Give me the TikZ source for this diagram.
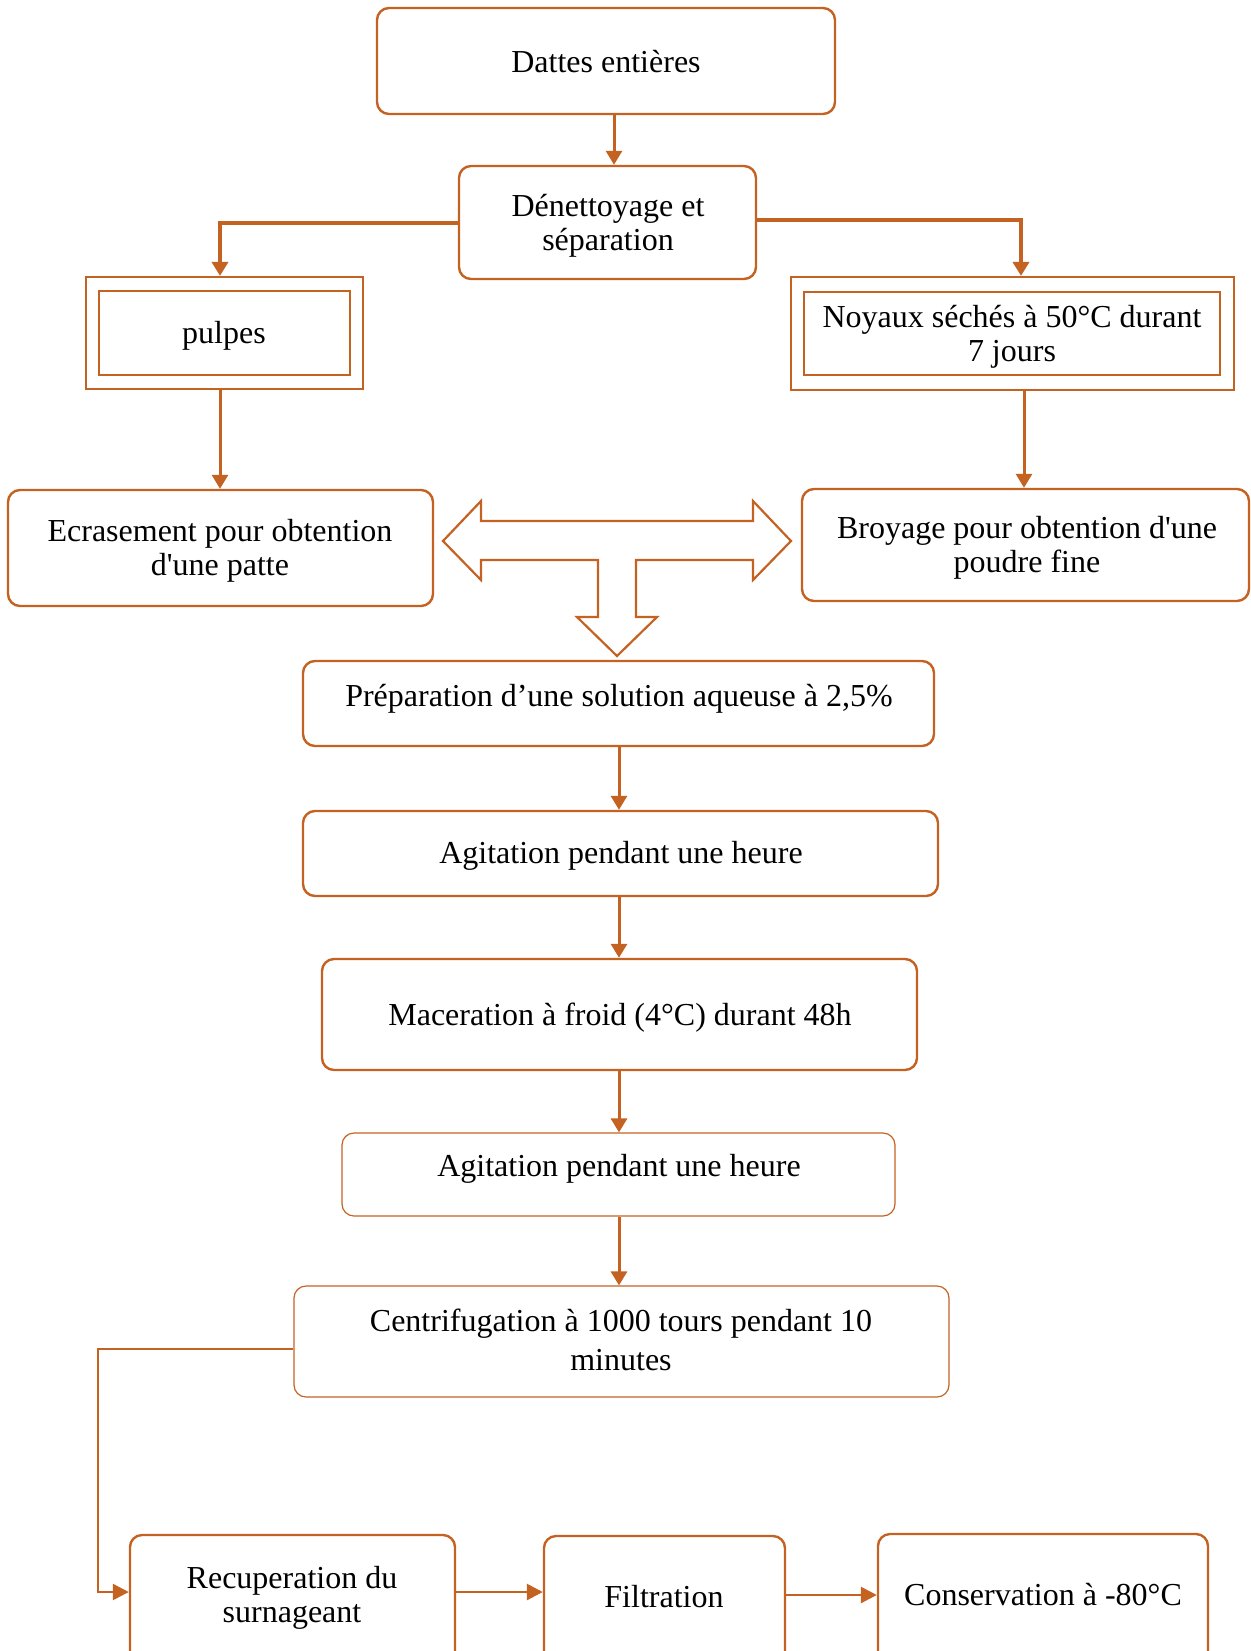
\documentclass[tikz,border=0pt]{standalone}
\usepackage{fontspec}
\setmainfont{Liberation Serif}[Ligatures=TeXOff]
\usetikzlibrary{arrows.meta,fit,calc}
\definecolor{brn}{RGB}{196,98,34}
\begin{document}
\begin{tikzpicture}[x=0.5pt,y=-0.5pt,
 box/.style={draw=brn, line width=1.2pt, rounded corners=6pt, inner sep=0pt},
 thinbox/.style={box, line width=0.6pt},
 sqbox/.style={draw=brn, line width=1.1pt, inner sep=0pt},
 txt/.style={font=\fontsize{16}{17}\selectfont, align=center, inner sep=0pt},
 arr/.style={draw=brn, line width=1.5pt, -{Triangle[width=8pt,length=7pt]}},
 conn/.style={draw=brn, line width=2pt},
 bigarrow/.style={draw=brn, line width=1.1pt, fill=white, line join=miter},
]
\useasboundingbox (0,0) rectangle (1250,1651);
\clip (0,0) rectangle (1250,1651);

% boxes
\node[box, fit={(377,8) (835,114)}] (dattes) {};
\node[txt] (tdattes) at (606,62) {Dattes entières};

\node[box, fit={(459,166) (756,279)}] (denet) {};
\node[txt] (tdenet) at (608,226) {Dénettoyage et\\séparation};

\node[sqbox, fit={(86,277) (363,389)}] (pulpout) {};
\node[sqbox, fit={(99,291) (350,375)}] (pulpin) {};
\node[txt] (tpulp) at (224,336) {pulpes};

\node[sqbox, fit={(791,277) (1234,390)}] (noyout) {};
\node[sqbox, fit={(804,292) (1220,375)}] (noyin) {};
\node[txt] (tnoy) at (1012,337) {Noyaux séchés à 50°C durant\\7 jours};

\node[box, fit={(8,490) (433,606)}] (ecras) {};
\node[txt] (tecras) at (220,551) {Ecrasement pour obtention\\d'une patte};

\node[box, fit={(802,489) (1249,601)}] (broy) {};
\node[txt] (tbroy) at (1027,548) {Broyage pour obtention d'une\\poudre fine};

\node[box, fit={(303,661) (934,746)}] (prep) {};
\node[txt] (tprep) at (619,699) {Préparation d’une solution aqueuse à 2,5\%};

\node[box, fit={(303,811) (938,896)}] (agit1) {};
\node[txt] (tagit1) at (621,856) {Agitation pendant une heure};

\node[box, fit={(322,959) (917,1070)}] (macer) {};
\node[txt] (tmacer) at (620,1018) {Maceration à froid (4°C) durant 48h};

\node[thinbox, fit={(342,1133) (895,1216)}] (agit2) {};
\node[txt] (tagit2) at (619,1169) {Agitation pendant une heure};

\node[thinbox, fit={(294,1286) (949,1397)}] (centrif) {};
\node[txt, font=\fontsize{16}{19.5}\selectfont] (tcentrif) at (621,1340) {Centrifugation à 1000 tours pendant 10\\minutes};

\node[box, fit={(130,1535) (455,1720)}] (recup) {};
\node[txt] (trecup) at (292,1598) {Recuperation du\\surnageant};

\node[box, fit={(544,1536) (785,1720)}] (filt) {};
\node[txt] (tfilt) at (664,1597) {Filtration};

\node[box, fit={(878,1534) (1208,1720)}] (cons) {};
\node[txt] (tcons) at (1043,1595) {Conservation à -80°C};

% connectors
\draw[arr] (dattes.south -| 614,0) -- (denet.north -| 614,0);
\draw[conn, -{Triangle[width=8pt,length=7pt]}] (denet.west) -| (pulpout.north -| 220,0);
\draw[conn, -{Triangle[width=8pt,length=7pt]}] ([yshift=1.25pt]denet.east) -| (noyout.north -| 1021,0);
\draw[arr] (pulpout.south -| 220,0) -- (ecras.north -| 220,0);
\draw[arr] (noyout.south -| 1024,0) -- (broy.north -| 1024,0);

% three-way arrow
\draw[bigarrow] (443,541) -- (481,501) -- (481,521) -- (753,521) -- (753,501) -- (791,541)
  -- (753,580) -- (753,560) -- (636,560) -- (636,617) -- (657,617) -- (617,656)
  -- (577,617) -- (598,617) -- (598,560) -- (481,560) -- (481,580) -- cycle;

\draw[arr] (prep.south -| 619,0) -- (agit1.north -| 619,0);
\draw[arr] (agit1.south -| 619,0) -- (macer.north -| 619,0);
\draw[arr] (macer.south -| 619,0) -- (agit2.north -| 619,0);
\draw[arr] (agit2.south -| 619,0) -- (centrif.north -| 619,0);

\draw[draw=brn, line width=1.2pt, -{Triangle[width=8pt,length=8pt]}]
  (centrif.west |- 0,1349) -| (98,1592) -- (recup.west |- 0,1592);
\draw[draw=brn, line width=1.4pt, -{Triangle[width=8pt,length=8pt]}]
  (recup.east |- 0,1592) -- (filt.west |- 0,1592);
\draw[draw=brn, line width=1.4pt, -{Triangle[width=8pt,length=8pt]}]
  (filt.east |- 0,1595) -- (cons.west |- 0,1595);
\end{tikzpicture}
\end{document}
